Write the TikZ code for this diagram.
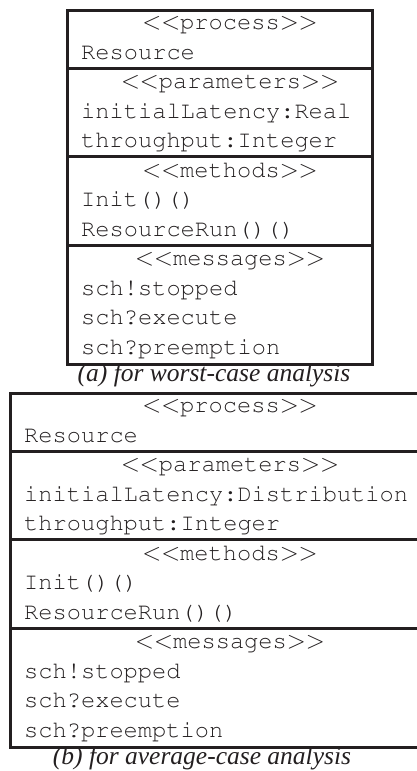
\documentclass[tikz,border=0pt]{standalone}
\usepackage[T1]{fontenc}
\usepackage{fontspec}
\setmainfont{Liberation Serif}
\newcommand\courfont{\fontencoding{T1}\fontfamily{pcr}\fontseries{m}\fontshape{n}\fontsize{23.7}{28}\selectfont}
\definecolor{ink}{RGB}{35,31,32}
\begin{document}
\begin{tikzpicture}[x=1pt,y=-1pt,
  frame/.style={draw=ink,line width=2.6pt},
  sep/.style={draw=ink,line width=3pt},
  item/.style={anchor=base west,inner sep=0pt,text=ink,font=\courfont},
  stereo/.style={anchor=base,inner sep=0pt,text=ink,font=\courfont},
  caption/.style={anchor=base,inner sep=0pt,text=ink,
    font=\fontsize{25.5}{28}\selectfont\itshape}]
\useasboundingbox (0,0) rectangle (417,771);

% ---------- class box (a) ----------
\node[frame,anchor=north west,minimum width=305pt,minimum height=354pt,inner sep=0pt] (boxa) at (66,9) {};
\draw[sep] (66,68) -- (371,68);
\draw[sep] (66,156.5) -- (371,156.5);
\draw[sep] (66,245) -- (371,245);

\node[stereo] (a1) at (230,29.5)  {$<<$process$>>$};
\node[item]   (a2) at (81,59)     {Resource};
\node[stereo] (a3) at (230,88.5)  {$<<$parameters$>>$};
\node[item]   (a4) at (81,118)    {initialLatency:Real};
\node[item]   (a5) at (81,147.5)  {throughput:Integer};
\node[stereo] (a6) at (230,177)   {$<<$methods$>>$};
\node[item]   (a7) at (81,206.5)  {Init()()};
\node[item]   (a8) at (81,236)    {ResourceRun()()};
\node[stereo] (a9) at (230,265.5) {$<<$messages$>>$};
\node[item]   (a10) at (81,295)   {sch!stopped};
\node[item]   (a11) at (81,324.5) {sch?execute};
\node[item]   (a12) at (81,354)   {sch?preemption};
\node[caption] (capa) at (214,381) {(a) for worst-case analysis};

% ---------- class box (b) ----------
\node[frame,anchor=north west,minimum width=430pt,minimum height=354pt,inner sep=0pt] (boxb) at (9,392) {};
\draw[sep] (9,451) -- (440,451);
\draw[sep] (9,539.5) -- (440,539.5);
\draw[sep] (9,628) -- (440,628);

\node[stereo] (b1) at (230,412.5)  {$<<$process$>>$};
\node[item]   (b2) at (24,442)     {Resource};
\node[stereo] (b3) at (230,471.5)  {$<<$parameters$>>$};
\node[item]   (b4) at (24,501)     {initialLatency:Distribution};
\node[item]   (b5) at (24,530.5)   {throughput:Integer};
\node[stereo] (b6) at (230,560)    {$<<$methods$>>$};
\node[item]   (b7) at (24,589.5)   {Init()()};
\node[item]   (b8) at (24,619)     {ResourceRun()()};
\node[stereo] (b9) at (230,648.5)  {$<<$messages$>>$};
\node[item]   (b10) at (24,678)    {sch!stopped};
\node[item]   (b11) at (24,707.5)  {sch?execute};
\node[item]   (b12) at (24,737)    {sch?preemption};
\node[caption] (capb) at (202,764) {(b) for average-case analysis};
\end{tikzpicture}
\end{document}
